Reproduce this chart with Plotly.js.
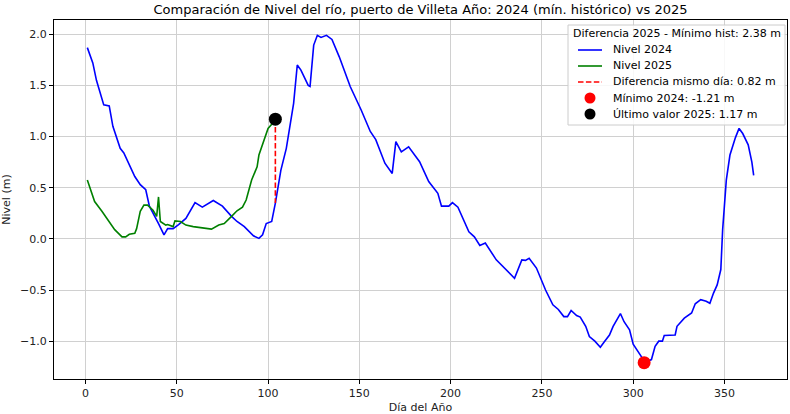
<!DOCTYPE html>
<html>
<head>
<meta charset="utf-8">
<script src="https://cdn.plot.ly/plotly-3.0.1.min.js"></script>
<style>html,body{margin:0;padding:0;background:#fff;}#chart{width:790px;height:414px;}</style>
</head>
<body>
<div id="chart"></div>
<script>
const days2024 = [1,4,6,10,13,15,19,21,27,30,33,35,40,43,45,48,51,55,60,64,70,75,80,83,87,92,95,97,99,102,104,107,110,114,116,118,122,123,125,127,129,132,135,139,145,151,156,159,164,168,170,173,177,183,188,193,195,199,201,204,210,213,216,219,225,235,239,241,243,247,252,256,259,262,264,266,269,271,274,276,279,282,284,287,289,291,293,295,298,300,302,305,306,310,312,314,316,317,323,324,328,332,334,337,340,342,344,346,348,349,351,353,356,358,360,363,365,366];
const nivel2024 = [1.87,1.72,1.55,1.31,1.30,1.10,0.885,0.84,0.61,0.53,0.48,0.32,0.15,0.04,0.10,0.10,0.14,0.20,0.355,0.31,0.375,0.32,0.22,0.17,0.12,0.03,0.005,0.04,0.15,0.17,0.35,0.67,0.885,1.325,1.70,1.65,1.50,1.49,1.895,1.99,1.97,1.99,1.95,1.78,1.49,1.26,1.05,0.97,0.74,0.64,0.95,0.85,0.90,0.755,0.56,0.445,0.32,0.32,0.355,0.31,0.07,0.02,-0.065,-0.04,-0.205,-0.385,-0.205,-0.21,-0.19,-0.285,-0.50,-0.645,-0.69,-0.76,-0.76,-0.70,-0.75,-0.765,-0.855,-0.955,-1.00,-1.06,-1.01,-0.94,-0.855,-0.79,-0.73,-0.81,-0.89,-1.03,-1.08,-1.165,-1.21,-1.18,-1.05,-1.00,-1.00,-0.945,-0.94,-0.855,-0.775,-0.725,-0.635,-0.595,-0.61,-0.63,-0.53,-0.45,-0.30,0.09,0.575,0.82,0.99,1.08,1.03,0.92,0.75,0.62];
const days2025 = [1,3,5,9,13,16,20,22,24,27,28,30,32,34,37,39,40,41,44,45,48,49,52,55,59,64,69,73,76,80,83,86,88,91,94,95,98,100,102,104];
const nivel2025 = [0.575,0.46,0.365,0.27,0.17,0.09,0.02,0.02,0.045,0.055,0.10,0.27,0.33,0.33,0.28,0.22,0.41,0.17,0.135,0.14,0.12,0.175,0.17,0.135,0.12,0.11,0.095,0.135,0.15,0.22,0.275,0.31,0.38,0.575,0.705,0.82,0.97,1.08,1.12,1.17];
const diffDay = [104, 104];
const diffVals = [1.17, 0.35];
const minDay = [306];
const minVal = [-1.21];
const lastDay = [104];
const lastVal = [1.17];
const labels = {
  title: 'Comparación de Nivel del río, puerto de Villeta Año: 2024 (mín. histórico) vs 2025',
  legendTitle: 'Diferencia 2025 - Mínimo hist: 2.38 m',
  s2024: 'Nivel 2024',
  s2025: 'Nivel 2025',
  diff: 'Diferencia mismo día: 0.82 m',
  min: 'Mínimo 2024: -1.21 m',
  last: 'Último valor 2025: 1.17 m',
  x: 'Día del Año',
  y: 'Nivel (m)'
};
const xTicks = [0,50,100,150,200,250,300,350];
const yTicks = [-1.0,-0.5,0.0,0.5,1.0,1.5,2.0];

const COL = {c2024: '#0000ff', c2025: '#008000', diff: '#ff0000', min: '#ff0000', last: '#000000'};
const DASH = '5.5px,2.4px';

const traces = [
  {x: days2024, y: nivel2024, mode: 'lines', name: labels.s2024, line: {color: COL.c2024, width: 1.6}},
  {x: days2025, y: nivel2025, mode: 'lines', name: labels.s2025, line: {color: COL.c2025, width: 1.6}},
  {x: diffDay, y: diffVals, mode: 'lines', name: labels.diff, line: {color: COL.diff, width: 1.6, dash: DASH}},
  {x: minDay, y: minVal, mode: 'markers', name: labels.min, marker: {color: COL.min, size: 13}},
  {x: lastDay, y: lastVal, mode: 'markers', name: labels.last, marker: {color: COL.last, size: 13}}
];

// plot area in pixels
const M = {l: 54, r: 3, t: 20, b: 35};
const W = 790, H = 414;
const PW = W - M.l - M.r, PH = H - M.t - M.b;
const px = X => (X - M.l) / PW;
const py = Y => (H - M.b - Y) / PH;

// custom legend (matplotlib style, compact rows)
const shapes = [];
const annotations = [];
const box = {x0: 568, x1: 785, y0: 25, y1: 125};
shapes.push({type: 'rect', xref: 'paper', yref: 'paper', x0: px(box.x0), x1: px(box.x1), y0: py(box.y1), y1: py(box.y0),
  fillcolor: 'rgba(255,255,255,0.85)', line: {color: '#cccccc', width: 1}, layer: 'above'});
annotations.push({xref: 'paper', yref: 'paper', x: px(676.5), y: py(34), text: labels.legendTitle, showarrow: false,
  xanchor: 'center', yanchor: 'middle', font: {size: 11, color: '#000'}});
const rows = [
  {y: 50, kind: 'line', color: COL.c2024, dash: 'solid', text: labels.s2024},
  {y: 66, kind: 'line', color: COL.c2025, dash: 'solid', text: labels.s2025},
  {y: 82, kind: 'line', color: COL.diff, dash: DASH, text: labels.diff},
  {y: 98, kind: 'dot', color: COL.min, text: labels.min},
  {y: 114, kind: 'dot', color: COL.last, text: labels.last}
];
rows.forEach(r => {
  if (r.kind === 'line') {
    shapes.push({type: 'line', xref: 'paper', yref: 'paper', x0: px(578), x1: px(602), y0: py(r.y), y1: py(r.y),
      line: {color: r.color, width: 1.6, dash: r.dash}, layer: 'above'});
  } else {
    const rr = 5.5;
    shapes.push({type: 'circle', xref: 'paper', yref: 'paper', x0: px(590 - rr), x1: px(590 + rr), y0: py(r.y + rr), y1: py(r.y - rr),
      fillcolor: r.color, line: {color: r.color, width: 0}, layer: 'above'});
  }
  annotations.push({xref: 'paper', yref: 'paper', x: px(611), y: py(r.y), text: r.text, showarrow: false,
    xanchor: 'left', yanchor: 'middle', font: {size: 11, color: '#000'}});
});

const axisCommon = {
  showline: true, mirror: true, linecolor: '#000', linewidth: 1,
  ticks: 'outside', ticklen: 4, tickcolor: '#000', tickwidth: 1,
  showgrid: true, gridcolor: '#d0d0d0', gridwidth: 1, zeroline: false,
  tickfont: {size: 11, color: '#222'}
};

const layout = {
  width: W, height: H,
  margin: M,
  paper_bgcolor: '#fff', plot_bgcolor: '#fff',
  font: {family: 'DejaVu Sans, sans-serif', color: '#222'},
  title: {text: labels.title, font: {size: 13, color: '#000'}, x: 0.5, xref: 'paper', xanchor: 'center', y: 0.988, yanchor: 'top'},
  xaxis: Object.assign({}, axisCommon, {range: [-17.25, 384.25], tickvals: xTicks, ticktext: xTicks.map(String),
    title: {text: labels.x, font: {size: 11}, standoff: 4}}),
  yaxis: Object.assign({}, axisCommon, {range: [-1.37, 2.14], tickvals: yTicks, ticktext: yTicks.map(v => v.toFixed(1).replace('-', '\u2212')),
    title: {text: labels.y, font: {size: 11}, standoff: 8}}),
  showlegend: false,
  shapes: shapes,
  annotations: annotations
};

Plotly.newPlot('chart', traces, layout, {displayModeBar: false, staticPlot: true});
</script>
</body>
</html>
